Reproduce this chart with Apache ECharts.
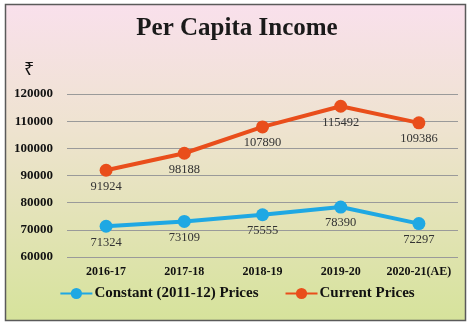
<!DOCTYPE html>
<html>
<head>
<meta charset="utf-8">
<script src="https://cdn.jsdelivr.net/npm/echarts@6/dist/echarts.min.js"></script>
<style>
html,body{margin:0;padding:0;background:#fff;}
#c{width:474px;height:328px;}
</style>
</head>
<body>
<div id="c"></div>
<script>
var categories = ['2016-17', '2017-18', '2018-19', '2019-20', '2020-21(AE)'];
var constantPrices = [71324, 73109, 75555, 78390, 72297];
var currentPrices = [91924, 98188, 107890, 115492, 109386];
var seriesNames = ['Constant (2011-12) Prices', 'Current Prices'];
var yTicks = { min: 60000, max: 120000, interval: 10000 };

var serif = '"Liberation Serif", "Times New Roman", serif';
var chart = echarts.init(document.getElementById('c'));
chart.setOption({
  animation: false,
  graphic: [
    {
      type: 'rect', z: -10, silent: true,
      shape: { x: 5.5, y: 4.5, width: 460, height: 316 },
      style: {
        fill: new echarts.graphic.LinearGradient(0, 0, 0, 1, [
          { offset: 0, color: '#F9E0EC' },
          { offset: 0.4, color: '#EEE3CF' },
          { offset: 1, color: '#D6E39B' }
        ]),
        stroke: '#5a5a5a', lineWidth: 1.5
      }
    },
    {
      type: 'text', left: 24, top: 61, silent: true,
      style: { text: '₹', font: '18px "Noto Sans", "DejaVu Sans", sans-serif', fill: '#111' }
    }
  ],
  title: {
    text: 'Per Capita Income', left: 'center', top: 11,
    textStyle: { fontFamily: serif, fontWeight: 'bold', fontSize: 25, color: '#1a1a1a' }
  },
  legend: {
    data: seriesNames, bottom: 22, left: 'center', itemWidth: 32, itemHeight: 14, itemGap: 26,
    textStyle: { fontFamily: serif, fontWeight: 'bold', fontSize: 15, color: '#111', padding: [0, 0, 0, -3] }
  },
  grid: { left: 67, right: 16, top: 94, bottom: 71 },
  xAxis: {
    type: 'category', data: categories, boundaryGap: true,
    axisLine: { show: false }, axisTick: { show: false },
    axisLabel: { interval: 0, fontFamily: serif, fontWeight: 'bold', fontSize: 12, color: '#111', margin: 9 }
  },
  yAxis: {
    type: 'value', min: yTicks.min, max: yTicks.max, interval: yTicks.interval,
    axisLine: { show: false }, axisTick: { show: false },
    splitLine: { lineStyle: { color: '#9a9a9a', width: 1 } },
    axisLabel: {
      formatter: function (v) { return String(v); },
      fontFamily: serif, fontWeight: 'bold', fontSize: 13, color: '#111', margin: 14
    }
  },
  series: [
    {
      name: seriesNames[0], type: 'line', data: constantPrices,
      symbol: 'circle', symbolSize: 13,
      lineStyle: { color: '#1FA8E3', width: 4 },
      itemStyle: { color: '#1FA8E3' },
      label: { show: true, position: 'bottom', distance: 3, fontFamily: serif, fontSize: 12.5, color: '#333' }
    },
    {
      name: seriesNames[1], type: 'line', data: currentPrices,
      symbol: 'circle', symbolSize: 13,
      lineStyle: { color: '#E94E1B', width: 4 },
      itemStyle: { color: '#E94E1B' },
      label: { show: true, position: 'bottom', distance: 3, fontFamily: serif, fontSize: 12.5, color: '#333' }
    }
  ]
});
</script>
</body>
</html>
